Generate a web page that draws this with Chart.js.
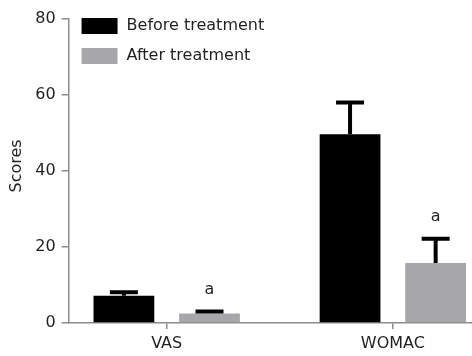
<!DOCTYPE html>
<html>
<head>
<meta charset="utf-8">
<script src="https://cdn.jsdelivr.net/npm/chart.js@4/dist/chart.umd.min.js"></script>
<style>
  html, body { margin: 0; padding: 0; background: #fff; }
  #wrap { width: 472px; height: 356px; }
</style>
</head>
<body>
<div id="wrap"><canvas id="c" width="472" height="356"></canvas></div>
<script>
// Scores before and after treatment, mean with upward SD bars
const categories = ['VAS', 'WOMAC'];
const seriesNames = ['Before treatment', 'After treatment'];
const beforeScores = [7.2, 49.7];
const beforeErrors = [0.9, 8.3];
const afterScores = [2.5, 15.8];
const afterErrors = [0.5, 6.4];
const afterMarks = ['a', 'a'];
const yTicks = [0, 20, 40, 60, 80];

const FONT = "'DejaVu Sans', Verdana, sans-serif";
const AXIS = '#8c8c8c';
const TEXT = '#231f20';
const GREY = '#a7a7a9';

const toPoints = vals => vals.map((v, i) => ({ x: i + 1, y: v }));

// Upward error bars plus the significance letters
const errorBars = {
  id: 'errorBars',
  afterDatasetsDraw(chart) {
    const ctx = chart.ctx;
    const y = chart.scales.y;
    ctx.save();
    chart.data.datasets.forEach((ds, di) => {
      const meta = chart.getDatasetMeta(di);
      meta.data.forEach((bar, i) => {
        const v = ds.data[i].y;
        const top = y.getPixelForValue(v + ds.errors[i]);
        ctx.strokeStyle = '#000';
        ctx.lineWidth = 4;
        ctx.lineCap = 'butt';
        ctx.beginPath();
        ctx.moveTo(bar.x, bar.y);
        ctx.lineTo(bar.x, top);
        ctx.moveTo(bar.x - 14, top);
        ctx.lineTo(bar.x + 14, top);
        ctx.stroke();
        if (ds.marks && ds.marks[i]) {
          ctx.fillStyle = TEXT;
          ctx.font = '16px ' + FONT;
          ctx.textAlign = 'center';
          ctx.textBaseline = 'middle';
          ctx.fillText(ds.marks[i], bar.x, top - 22);
        }
      });
    });
    ctx.restore();
  }
};

// Legend placed inside the plot, top-left
const boxLegend = {
  id: 'boxLegend',
  afterDraw(chart) {
    const ctx = chart.ctx;
    const area = chart.chartArea;
    ctx.save();
    ctx.font = '16px ' + FONT;
    ctx.textBaseline = 'middle';
    ctx.textAlign = 'left';
    chart.data.datasets.forEach((ds, i) => {
      const bx = area.left + 13;
      const by = area.top - 1 + i * 30;
      ctx.fillStyle = ds.backgroundColor;
      ctx.fillRect(bx, by, 36, 16);
      ctx.fillStyle = TEXT;
      ctx.fillText(ds.label, bx + 45, by + 8);
    });
    ctx.restore();
  }
};

new Chart(document.getElementById('c'), {
  type: 'bar',
  data: {
    datasets: [
      { label: seriesNames[0], data: toPoints(beforeScores), errors: beforeErrors,
        backgroundColor: '#000000' },
      { label: seriesNames[1], data: toPoints(afterScores), errors: afterErrors,
        marks: afterMarks, backgroundColor: GREY }
    ]
  },
  options: {
    responsive: false,
    animation: false,
    categoryPercentage: 0.757,
    barPercentage: 0.71,
    layout: { padding: { top: 19, right: 0, left: 5, bottom: -3 } },
    plugins: { legend: { display: false }, tooltip: { enabled: false } },
    scales: {
      x: {
        type: 'linear',
        offset: false,
        min: 0.566,
        max: 2.35,
        afterBuildTicks: s => { s.ticks = categories.map((c, i) => ({ value: i + 1 })); },
        grid: { display: true, offset: false, drawOnChartArea: false, drawTicks: true,
                tickLength: 6, color: AXIS, lineWidth: 1.5 },
        border: { display: true, color: AXIS, width: 1.5 },
        ticks: { color: TEXT, font: { family: FONT, size: 16, lineHeight: 1 }, padding: 7,
                 autoSkip: false, maxRotation: 0,
                 callback: (v, i) => categories[i] }
      },
      y: {
        min: 0,
        max: 80,
        afterBuildTicks: s => { s.ticks = yTicks.map(v => ({ value: v })); },
        grid: { display: true, drawOnChartArea: false, drawTicks: true, tickLength: 7,
                color: AXIS, lineWidth: 1.5 },
        border: { display: true, color: AXIS, width: 1.5 },
        ticks: { color: TEXT, font: { family: FONT, size: 16 }, padding: 6 },
        title: { display: true, text: '  Scores', color: TEXT,
                 font: { family: FONT, size: 16 }, padding: { top: 2, bottom: 3 } }
      }
    }
  },
  plugins: [errorBars, boxLegend]
});
</script>
</body>
</html>
